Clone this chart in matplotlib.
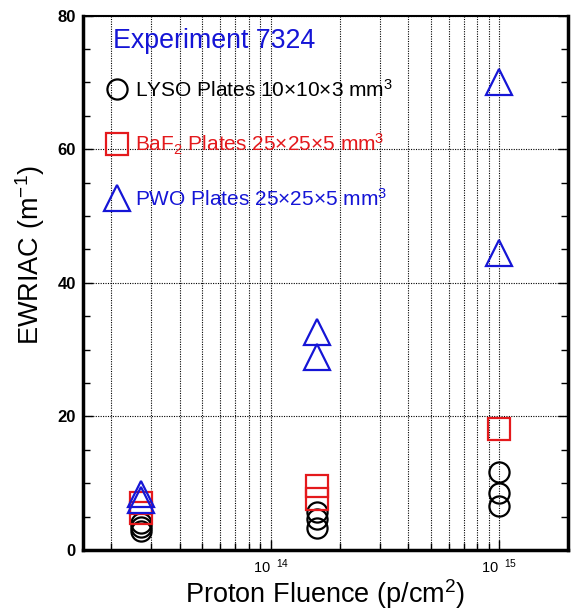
import numpy as np
import matplotlib
matplotlib.use("Agg")
import matplotlib.pyplot as plt
from matplotlib.ticker import LogLocator, FixedLocator, MultipleLocator, NullFormatter

plt.rcParams['font.family'] = ['Liberation Sans', 'DejaVu Sans']
plt.rcParams['mathtext.default'] = 'regular'

# Fluence groups (p/cm^2) and EWRIAC values (m^-1)
lyso_fluence = [2.7e13, 2.7e13, 2.7e13, 1.6e14, 1.6e14, 1.6e14, 1e15, 1e15, 1e15]
lyso_ewriac = [4.0, 3.4, 2.9, 5.7, 4.6, 3.3, 11.7, 8.6, 6.6]

baf2_fluence = [2.7e13, 2.7e13, 1.6e14, 1.6e14, 1e15]
baf2_ewriac = [7.0, 5.6, 9.6, 7.6, 18.1]

pwo_fluence = [2.7e13, 2.7e13, 1.6e14, 1.6e14, 1e15, 1e15]
pwo_ewriac = [8.4, 7.5, 32.7, 28.9, 70.0, 44.5]

labels = ['LYSO Plates 10×10×3 mm$^3$',
          'BaF$_2$ Plates 25×25×5 mm$^3$',
          'PWO Plates 25×25×5 mm$^3$']
xtick_vals = [1e14, 1e15]
xtick_text = ['10$^{\\ \\ 14}$', '10$^{\\ \\ 15}$']

blue = '#1515d6'
red = '#e4191c'

fig = plt.figure(figsize=(5.72, 6.11), dpi=100)
ax = fig.add_axes([0.1446, 0.0998, 0.8484, 0.8745])

ax.plot(lyso_fluence, lyso_ewriac, 'o', ms=14.5, mfc='none', mec='black', mew=1.6, label=labels[0])
ax.plot(baf2_fluence, baf2_ewriac, 's', ms=15.5, mfc='none', mec=red, mew=1.6, label=labels[1])
ax.plot(pwo_fluence, pwo_ewriac, '^', ms=19, mfc='none', mec=blue, mew=1.6, label=labels[2])

ax.set_xscale('log')
ax.set_xlim(1.5e13, 2.0e15)
ax.set_ylim(0, 80)

ax.xaxis.set_major_locator(FixedLocator(xtick_vals))
ax.xaxis.set_minor_locator(LogLocator(base=10, subs=np.arange(2, 10)))
ax.xaxis.set_minor_formatter(NullFormatter())
ax.set_xticklabels(xtick_text, fontsize=10.5)

ax.yaxis.set_major_locator(MultipleLocator(20))
ax.yaxis.set_minor_locator(MultipleLocator(5))
for t in ax.get_yticklabels():
    t.set_fontweight('bold')
    t.set_fontsize(12)

ax.tick_params(which='both', direction='in', right=True, top=False, bottom=True)
ax.tick_params(which='major', length=7, width=1)
ax.tick_params(which='minor', length=5, width=1)
ax.tick_params(axis='x', which='major', pad=5)
ax.tick_params(axis='y', which='major', pad=5)

ax.grid(True, which='major', axis='y', linestyle=(0, (1, 1.2)), color='black', linewidth=0.8)
ax.grid(True, which='both', axis='x', linestyle=(0, (1, 1.2)), color='black', linewidth=0.8)

for side in ['left', 'bottom', 'right']:
    ax.spines[side].set_linewidth(2.5)
ax.spines['top'].set_linewidth(1.5)

ax.set_xlabel('Proton Fluence (p/cm$^2$)', fontsize=19.5)
ax.xaxis.set_label_coords(0.5, -0.050)
ax.set_ylabel('EWRIAC (m$^{-1}$)', fontsize=19.5)
ax.yaxis.set_label_coords(-0.074, 0.552)

ax.text(0.063, 0.940, 'Experiment 7324', transform=ax.transAxes, color=blue,
        fontsize=19.3, va='baseline', ha='left')

leg = ax.legend(loc='upper left', bbox_to_anchor=(0.049, 0.882), frameon=False,
                fontsize=15, handlelength=1.0, handletextpad=0.37,
                labelspacing=1.48, borderpad=0, borderaxespad=0,
                labelcolor=['black', red, blue])

fig.savefig('out.png', dpi=100)
